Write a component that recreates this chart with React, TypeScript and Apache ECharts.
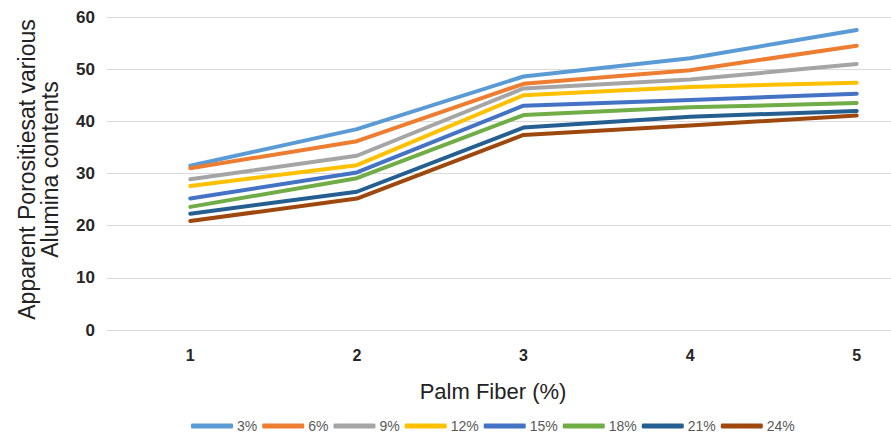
import React, { useEffect, useRef } from "react";
import * as echarts from "echarts";

const categories = ["1", "2", "3", "4", "5"];
const seriesNames = ["3%", "6%", "9%", "12%", "15%", "18%", "21%", "24%"];
const s3 = [31.5, 38.5, 48.6, 52.1, 57.5];
const s6 = [31.0, 36.2, 47.2, 49.8, 54.5];
const s9 = [28.9, 33.4, 46.3, 48.0, 51.0];
const s12 = [27.6, 31.6, 45.0, 46.6, 47.4];
const s15 = [25.2, 30.2, 43.0, 44.1, 45.3];
const s18 = [23.6, 29.1, 41.2, 42.7, 43.5];
const s21 = [22.3, 26.5, 38.8, 40.9, 42.0];
const s24 = [20.9, 25.2, 37.4, 39.2, 41.1];
const seriesData = [s3, s6, s9, s12, s15, s18, s21, s24];
const colors = ["#5B9BD5", "#ED7D31", "#A5A5A5", "#FFC000", "#4472C4", "#70AD47", "#255E91", "#9E480E"];
const yTicks = { min: 0, max: 60, interval: 10 };

export default function App() {
  const ref = useRef<HTMLDivElement>(null);
  useEffect(() => {
    if (!ref.current) return;
    const chart = echarts.init(ref.current, null, { renderer: "svg" });
    chart.setOption({
      animation: false,
      backgroundColor: "#ffffff",
      color: colors,
      grid: { left: 107, right: -49, top: 17, bottom: 110, containLabel: false, outerBoundsMode: "none" },
      legend: {
        left: 186,
        top: 414,
        icon: "roundRect",
        itemWidth: 42,
        itemHeight: 5,
        itemGap: 5,
        data: seriesNames,
        textStyle: { color: "#595959", fontSize: 14, fontFamily: "Liberation Sans, Arial, sans-serif", padding: [0, 0, 0, -1] },
      },
      xAxis: {
        type: "category",
        data: categories,
        boundaryGap: true,
        axisLine: { show: false },
        axisTick: { show: false },
        axisLabel: { color: "#262626", fontWeight: "bold", fontSize: 16, margin: 17, fontFamily: "Liberation Sans, Arial, sans-serif" },
        name: "Palm Fiber (%)",
        nameLocation: "middle",
        nameGap: 50,
        nameTextStyle: { color: "#222222", fontSize: 22, padding: [0, 61, 0, 0], fontFamily: "Liberation Sans, Arial, sans-serif" },
      },
      yAxis: {
        type: "value",
        min: yTicks.min,
        max: yTicks.max,
        interval: yTicks.interval,
        axisLine: { show: false },
        axisTick: { show: false },
        splitLine: { lineStyle: { color: "#D9D9D9", width: 1 } },
        axisLabel: { color: "#262626", fontWeight: "bold", fontSize: 17, margin: 12, fontFamily: "Liberation Sans, Arial, sans-serif" },
        name: "Apparent Porositiesat various\nAlumina contents",
        nameLocation: "middle",
        nameGap: 46,
        nameTextStyle: { color: "#222222", fontSize: 23, lineHeight: 23, padding: [0, 0, 0, 8], fontFamily: "Liberation Sans, Arial, sans-serif" },
      },
      series: seriesNames.map((name, i) => ({
        name,
        type: "line",
        data: seriesData[i],
        symbol: "none",
        lineStyle: { width: 4, color: colors[i], cap: "round", join: "round" },
        itemStyle: { color: colors[i] },
      })),
    });
    return () => chart.dispose();
  }, []);
  return <div ref={ref} style={{ width: 891, height: 440, position: "absolute", left: 0, top: 0 }} />;
}
